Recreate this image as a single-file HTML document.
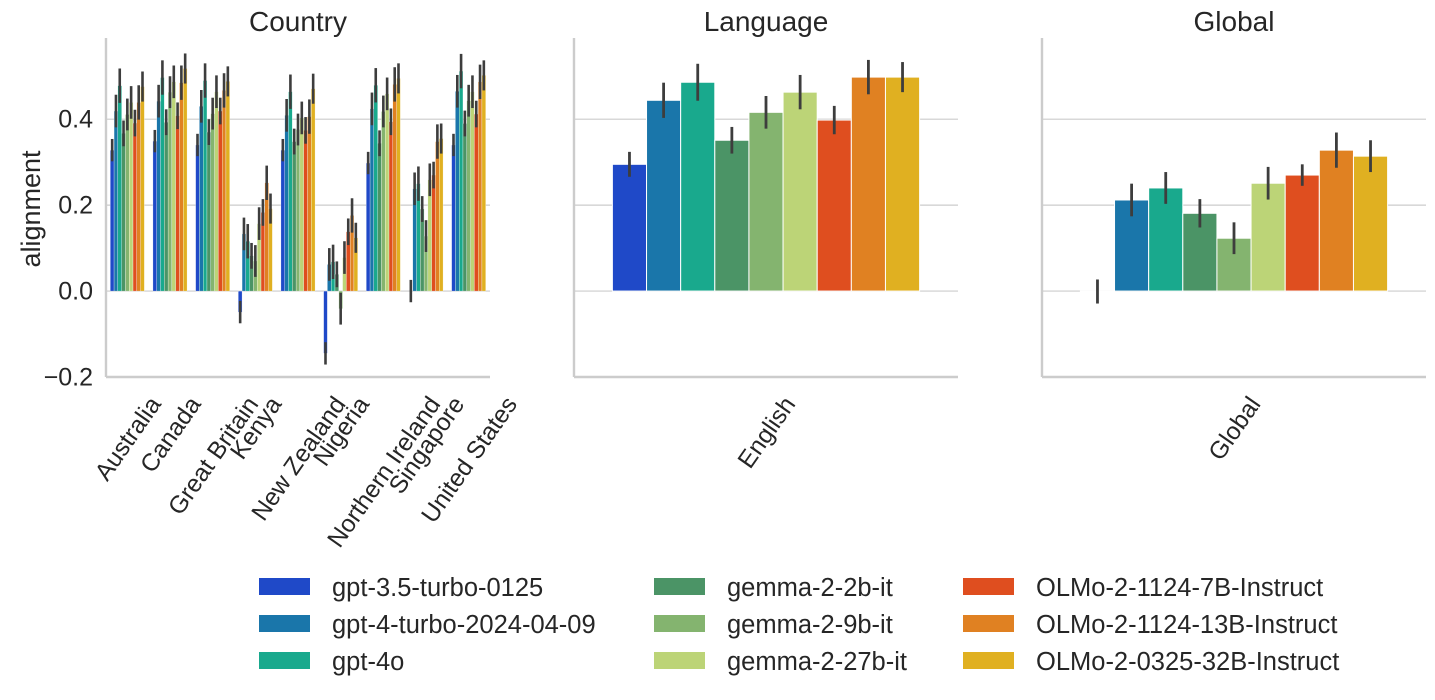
<!DOCTYPE html>
<html><head><meta charset="utf-8"><style>
body{margin:0;background:#fff;}
svg text{font-family:"Liberation Sans",sans-serif;fill:#262626;}
</style></head><body>
<svg id="c" width="1435" height="695" xmlns="http://www.w3.org/2000/svg"></svg>
<script>
const models=["gpt-3.5-turbo-0125","gpt-4-turbo-2024-04-09","gpt-4o","gemma-2-2b-it","gemma-2-9b-it","gemma-2-27b-it","OLMo-2-1124-7B-Instruct","OLMo-2-1124-13B-Instruct","OLMo-2-0325-32B-Instruct"];
const colors=["#1f49c8","#1a76aa","#19a98d","#4b9466","#84b46f","#bcd477","#df4e1f","#e08122","#e0b021"];
const countries=["Australia","Canada","Great Britain","Kenya","New Zealand","Nigeria","Northern Ireland","Singapore","United States"];
const countryVals=[
[0.328,0.419,0.478,0.367,0.411,0.439,0.391,0.439,0.476],
[0.349,0.442,0.497,0.393,0.463,0.487,0.408,0.485,0.518],
[0.340,0.430,0.490,0.370,0.413,0.464,0.419,0.467,0.488],
[-0.049,0.133,0.116,0.082,0.070,0.157,0.183,0.252,0.192],
[0.328,0.409,0.464,0.348,0.376,0.403,0.374,0.406,0.471],
[-0.145,0.062,0.068,0.039,-0.041,0.078,0.138,0.176,0.124],
[0.298,0.424,0.479,0.344,0.418,0.459,0.394,0.481,0.495],
[0.000,0.238,0.250,0.191,0.128,0.259,0.270,0.348,0.355],
[0.340,0.465,0.512,0.390,0.443,0.464,0.412,0.487,0.502]];
const countryErr=[0.026,0.038,0.040,0.030,0.037,0.038,0.031,0.040,0.035];
const languages=["English"];
const languageVals=[[0.295,0.444,0.486,0.351,0.416,0.463,0.398,0.498,0.498]];
const languageErr=[[0.029,0.041,0.043,0.031,0.038,0.040,0.033,0.040,0.035]];
const globals=["Global"];
const globalVals=[[-0.001,0.212,0.240,0.181,0.123,0.251,0.270,0.328,0.314]];
const globalErr=[[0.028,0.038,0.037,0.033,0.037,0.038,0.025,0.041,0.037]];
const yTicks=[-0.2,0.0,0.2,0.4];
const yTickLabels=["\u22120.2","0.0","0.2","0.4"];

const svg=document.getElementById('c');
const NS="http://www.w3.org/2000/svg";
function mk(tag,attrs,parent){const e=document.createElementNS(NS,tag);for(const k in attrs)e.setAttribute(k,attrs[k]);(parent||svg).appendChild(e);return e;}
const yTop=38,yBot=377,yMin=-0.2,yMax=0.589;
function yScale(v){return yBot-(v-yMin)/(yMax-yMin)*(yBot-yTop);}
const panels=[{x0:106,title:"Country",cats:countries,vals:countryVals,err:null},
{x0:574,title:"Language",cats:languages,vals:languageVals,err:languageErr},
{x0:1042,title:"Global",cats:globals,vals:globalVals,err:globalErr}];
const PW=384;
panels.forEach((p,pi)=>{
  const g=mk('g',{});
  
  
  yTicks.forEach(t=>{if(t===-0.2)return;
    const l=mk('line',{x1:p.x0,x2:p.x0+PW,y1:yScale(t),y2:yScale(t),stroke:'#cccccc','stroke-width':1.2},g);
    });
  const n=p.cats.length,cw=PW/n,gw=cw*0.8,bw=gw/models.length;
  p.cats.forEach((c,ci)=>{
    const cx=p.x0+cw*(ci+0.5);
    models.forEach((m,mi)=>{
      const v=p.vals[ci][mi];
      const e=p.err?p.err[ci][mi]:countryErr[mi];
      const x=cx-gw/2+mi*bw;
      const y0=yScale(0),y1=yScale(v);
      const r=mk('rect',{x:x,y:Math.min(y0,y1),width:bw,height:Math.abs(y1-y0),fill:colors[mi],stroke:'#fff','stroke-width':n>1?0.3:1},g);
      
      
      const el=mk('line',{x1:x+bw/2,x2:x+bw/2,y1:yScale(v-e),y2:yScale(v+e),stroke:'#3d3d3d','stroke-width':n>1?2.6:2.8},g);
      
      
    });
    const fs=24.5;
    const t=mk('text',{'font-size':fs,'text-anchor':'end'},g);
    t.textContent=c;
    
    
    const L=t.getComputedTextLength();
    const a=55*Math.PI/180;
    const capH=fs*0.72;
    const bwid=L*Math.cos(a)+capH*Math.sin(a);
    const ex=cx+bwid/2, ey=394+capH*Math.cos(a);
    t.setAttribute('transform','translate('+ex+','+ey+') rotate(-55)');
  });
  mk('line',{x1:p.x0,x2:p.x0,y1:yTop,y2:yBot,stroke:'#cccccc','stroke-width':2.4},g);
  mk('line',{x1:p.x0,x2:p.x0+PW,y1:yBot,y2:yBot,stroke:'#cccccc','stroke-width':2.4},g);
  const tt=mk('text',{x:p.x0+PW/2,y:31,'font-size':28,'text-anchor':'middle'},g);
  tt.textContent=p.title;
  
  
});
yTicks.forEach((t,i)=>{
  const tl=mk('text',{x:93,y:yScale(t)+8.5,'font-size':25,'text-anchor':'end'});
  tl.textContent=yTickLabels[i];
  
  
});
const yl=mk('text',{x:0,y:0,'font-size':27,'text-anchor':'middle',transform:'translate(40,209) rotate(-90)'});
yl.textContent='alignment';


const colX=[259,654,963],rowY=[578,615,652];
models.forEach((m,i)=>{
  const col=Math.floor(i/3),row=i%3;
  const g=mk('g',{});
  
  
  mk('rect',{x:colX[col],y:rowY[row],width:51,height:17,fill:colors[i]},g);
  const t=mk('text',{x:colX[col]+73,y:rowY[row]+18,'font-size':25.5},g);
  t.textContent=m;
});
</script>
</body></html>
